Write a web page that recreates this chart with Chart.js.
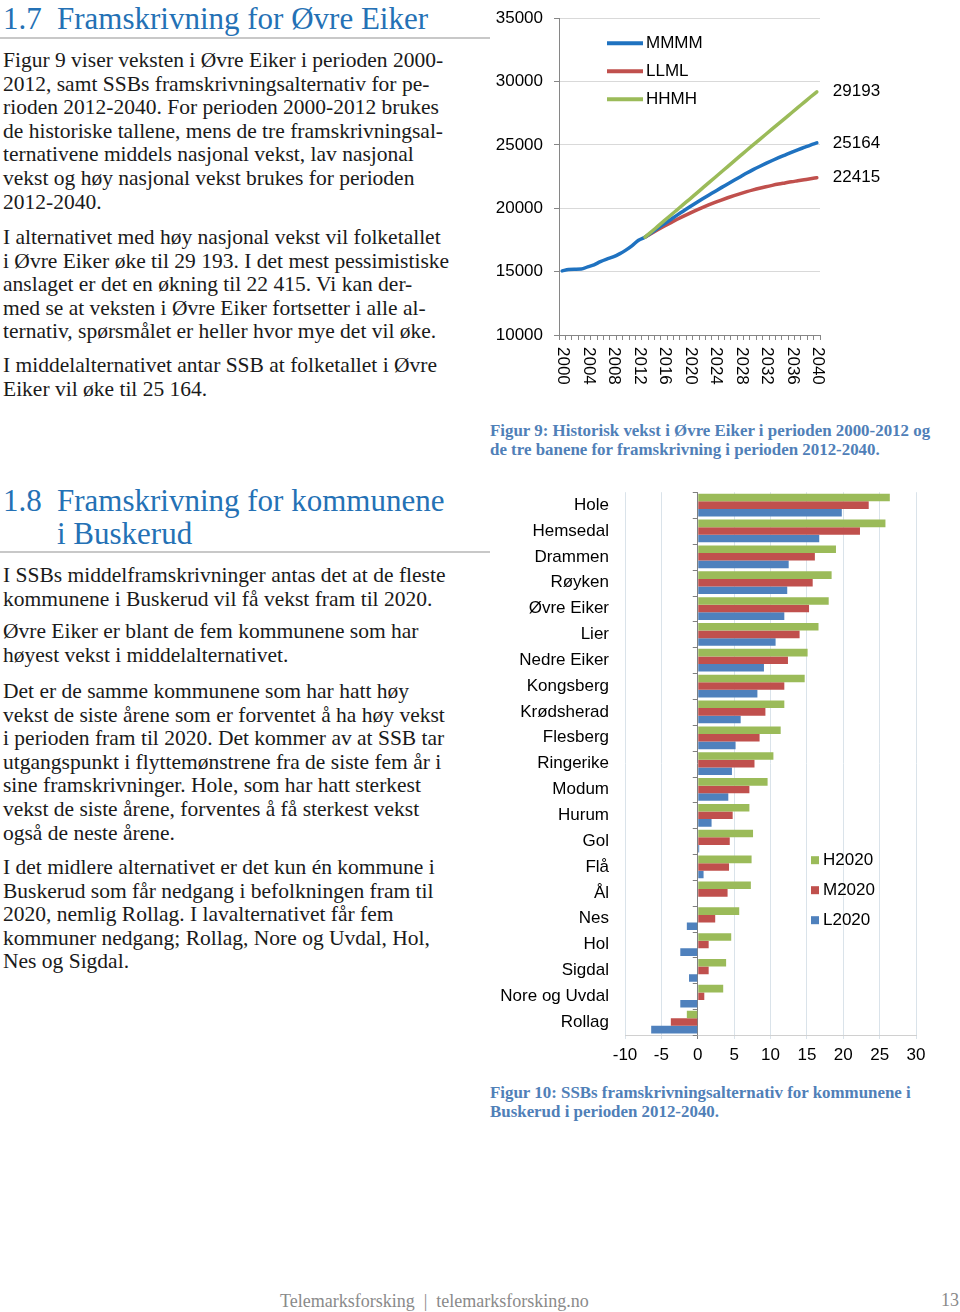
<!DOCTYPE html>
<html>
<head>
<meta charset="utf-8">
<script src="https://cdn.jsdelivr.net/npm/chart.js@4.4.0/dist/chart.umd.min.js"></script>
<style>
html, body { margin: 0; padding: 0; background: #fff; }
body { width: 960px; height: 1312px; position: relative; overflow: hidden;
  font-family: "Liberation Serif", "DejaVu Serif", serif; color: #1a1a1a; }
.h { position: absolute; font-size: 31px; line-height: 32.6px; color: #2471b5; white-space: nowrap; }
.rule { position: absolute; left: 0; width: 490px; height: 2px; background: #c8c8c8; }
.p { position: absolute; left: 3px; font-size: 21.5px; line-height: 23.6px; white-space: nowrap; }
.cap { position: absolute; left: 490px; font-size: 16.9px; line-height: 18.7px; font-weight: bold; color: #5080b8; white-space: nowrap; }
.foot { position: absolute; font-size: 18px; color: #8a8a8a; white-space: nowrap; }
canvas { position: absolute; }
</style>
</head>
<body>

<div class="h" style="left:3px;top:3px">1.7</div>
<div class="h" style="left:57px;top:3px">Framskrivning for Øvre Eiker</div>
<div class="rule" style="top:37px"></div>

<div class="p" style="top:49px">Figur 9 viser veksten i Øvre Eiker i perioden 2000-<br>2012, samt SSBs framskrivningsalternativ for pe-<br>rioden 2012-2040. For perioden 2000-2012 brukes<br>de historiske tallene, mens de tre framskrivningsal-<br>ternativene middels nasjonal vekst, lav nasjonal<br>vekst og høy nasjonal vekst brukes for perioden<br>2012-2040.</div>

<div class="p" style="top:226px">I alternativet med høy nasjonal vekst vil folketallet<br>i Øvre Eiker øke til 29 193. I det mest pessimistiske<br>anslaget er det en økning til 22 415. Vi kan der-<br>med se at veksten i Øvre Eiker fortsetter i alle al-<br>ternativ, spørsmålet er heller hvor mye det vil øke.</div>

<div class="p" style="top:354px">I middelalternativet antar SSB at folketallet i Øvre<br>Eiker vil øke til 25 164.</div>

<div class="h" style="left:3px;top:485px">1.8</div>
<div class="h" style="left:57px;top:485px">Framskrivning for kommunene<br>i Buskerud</div>
<div class="rule" style="top:551px"></div>

<div class="p" style="top:564px">I SSBs middelframskrivninger antas det at de fleste<br>kommunene i Buskerud vil få vekst fram til 2020.</div>

<div class="p" style="top:620px">Øvre Eiker er blant de fem kommunene som har<br>høyest vekst i middelalternativet.</div>

<div class="p" style="top:680px">Det er de samme kommunene som har hatt høy<br>vekst de siste årene som er forventet å ha høy vekst<br>i perioden fram til 2020. Det kommer av at SSB tar<br>utgangspunkt i flyttemønstrene fra de siste fem år i<br>sine framskrivninger. Hole, som har hatt sterkest<br>vekst de siste årene, forventes å få sterkest vekst<br>også de neste årene.</div>

<div class="p" style="top:856px">I det midlere alternativet er det kun én kommune i<br>Buskerud som får nedgang i befolkningen fram til<br>2020, nemlig Rollag. I lavalternativet får fem<br>kommuner nedgang; Rollag, Nore og Uvdal, Hol,<br>Nes og Sigdal.</div>

<div class="cap" style="top:422px">Figur 9: Historisk vekst i Øvre Eiker i perioden 2000-2012 og<br>de tre banene for framskrivning i perioden 2012-2040.</div>
<div class="cap" style="top:1084px">Figur 10: SSBs framskrivningsalternativ for kommunene i<br>Buskerud i perioden 2012-2040.</div>

<div class="foot" style="left:280px;top:1291px">Telemarksforsking &nbsp;|&nbsp; telemarksforsking.no</div>
<div class="foot" style="left:941px;top:1290px">13</div>

<canvas id="lineChart" width="410" height="398" style="left:490px;top:-3px"></canvas>
<canvas id="barChart" width="450" height="609" style="left:490px;top:466px"></canvas>

<script>
// Figur 9 - folketall Øvre Eiker
const years = [2000, 2001, 2002, 2003, 2004, 2005, 2006, 2007, 2008, 2009, 2010,
  2011, 2012, 2013, 2014, 2015, 2016, 2017, 2018, 2019, 2020,
  2021, 2022, 2023, 2024, 2025, 2026, 2027, 2028, 2029, 2030,
  2031, 2032, 2033, 2034, 2035, 2036, 2037, 2038, 2039, 2040];
// historiske tall 2000-2013
const historical = [15060, 15170, 15190, 15200, 15380, 15540, 15790, 15990, 16160, 16400, 16700, 17060, 17480, 17720];
// framskrivninger 2013-2040
const mmmm = [17720, 18070, 18420, 18760, 19100, 19440, 19770, 20100, 20420, 20730, 21030, 21330, 21630, 21920,
  22210, 22490, 22780, 23050, 23300, 23540, 23770, 23990, 24200, 24410, 24610, 24800, 24990, 25164];
const llml = [17720, 18010, 18300, 18580, 18850, 19110, 19360, 19600, 19830, 20050, 20260, 20460, 20650, 20830,
  21000, 21160, 21310, 21450, 21580, 21700, 21810, 21910, 22000, 22090, 22170, 22250, 22330, 22415];
const hhmh = [17720, 18140, 18570, 19000, 19430, 19860, 20290, 20710, 21140, 21570, 22000, 22430, 22860, 23290,
  23720, 24150, 24580, 25000, 25420, 25840, 26260, 26680, 27100, 27520, 27940, 28360, 28780, 29193];
const yTicks = [10000, 15000, 20000, 25000, 30000, 35000];

// Figur 10 - vekst i prosent fram til 2020
const kommuner = ['Hole', 'Hemsedal', 'Drammen', 'Røyken', 'Øvre Eiker', 'Lier', 'Nedre Eiker', 'Kongsberg',
  'Krødsherad', 'Flesberg', 'Ringerike', 'Modum', 'Hurum', 'Gol', 'Flå', 'Ål', 'Nes', 'Hol', 'Sigdal',
  'Nore og Uvdal', 'Rollag'];
const h2020 = [26.4, 25.8, 19.0, 18.4, 18.0, 16.6, 15.1, 14.7, 11.9, 11.4, 10.4, 9.6, 7.1, 7.6, 7.4, 7.3, 5.7, 4.6, 3.9, 3.5, -1.5];
const m2020 = [23.5, 22.3, 16.1, 15.8, 15.3, 14.0, 12.4, 11.9, 9.3, 8.5, 7.8, 7.1, 4.8, 4.4, 4.3, 4.1, 2.4, 1.5, 1.5, 0.9, -3.7];
const l2020 = [19.8, 16.7, 12.5, 12.3, 11.9, 10.7, 9.1, 8.2, 5.9, 5.2, 4.7, 4.2, 1.9, 0.2, 0.8, 0.0, -1.5, -2.4, -1.2, -2.4, -6.4];
const xTicks = [-10, -5, 0, 5, 10, 15, 20, 25, 30];

Chart.defaults.font.family = '"Liberation Sans", Arial, sans-serif';
Chart.defaults.font.size = 17;
Chart.defaults.color = '#000';

const FONT = '17px "Liberation Sans", Arial, sans-serif';
const pad = Array(years.length - mmmm.length).fill(null);

// year labels rotated 90 deg clockwise, reading downwards
const rotatedYears = {
  id: 'rotatedYears',
  afterDraw(chart) {
    const s = chart.scales.x, ctx = chart.ctx;
    ctx.save();
    ctx.font = FONT;
    ctx.fillStyle = '#000';
    ctx.textAlign = 'left';
    ctx.textBaseline = 'middle';
    s.ticks.forEach((t, i) => {
      if (years[i] % 4) return;
      ctx.save();
      ctx.translate(s.getPixelForTick(i) + 1, s.top + 12);
      ctx.rotate(Math.PI / 2);
      ctx.fillText(String(years[i]), 0, 0);
      ctx.restore();
    });
    ctx.restore();
  }
};

const lineLegend = {
  id: 'lineLegend',
  afterDatasetsDraw(chart) {
    const a = chart.chartArea, ctx = chart.ctx;
    ctx.save();
    ctx.font = FONT;
    ctx.fillStyle = '#000';
    ctx.textBaseline = 'middle';
    chart.data.datasets.forEach((d, i) => {
      const y = a.top + 25 + i * 28;
      ctx.strokeStyle = d.borderColor;
      ctx.lineWidth = 4;
      ctx.beginPath();
      ctx.moveTo(a.left + 48, y);
      ctx.lineTo(a.left + 84, y);
      ctx.stroke();
      ctx.fillText(d.label, a.left + 87, y);
      // verdien ved siste punkt
      const meta = chart.getDatasetMeta(i);
      const p = meta.data[meta.data.length - 1];
      ctx.fillText(String(d.data[d.data.length - 1]), p.x + 16, p.y);
    });
    ctx.restore();
  }
};

new Chart(document.getElementById('lineChart'), {
  type: 'line',
  data: {
    labels: years,
    datasets: [
      { label: 'MMMM', data: historical.slice(0, -1).concat(mmmm), borderColor: '#1f72c0', order: 1 },
      { label: 'LLML', data: pad.concat(llml), borderColor: '#c0504d', order: 2 },
      { label: 'HHMH', data: pad.concat(hhmh), borderColor: '#9bbb59', order: 0 }
    ]
  },
  options: {
    responsive: false,
    animation: false,
    layout: { padding: { top: 5, right: 80 } },
    elements: {
      line: { borderWidth: 3.5, cubicInterpolationMode: 'monotone', borderCapStyle: 'round' },
      point: { radius: 0 }
    },
    plugins: { legend: { display: false }, tooltip: { enabled: false } },
    scales: {
      x: {
        offset: true,
        grid: { offset: true, drawOnChartArea: false, tickLength: 5, color: '#868686' },
        border: { color: '#868686' },
        ticks: { autoSkip: false, minRotation: 90, maxRotation: 90, color: 'rgba(0,0,0,0)',
          callback: (v, i) => (years[i] % 4 === 0 ? String(years[i]) : '') },
        afterFit: s => { s.height = 60; }
      },
      y: {
        min: yTicks[0],
        max: yTicks[yTicks.length - 1],
        afterBuildTicks: s => { s.ticks = yTicks.map(v => ({ value: v })); },
        ticks: { padding: 11, callback: v => String(v) },
        grid: { color: '#d9d9d9', tickLength: 5, tickColor: '#868686' },
        border: { color: '#868686' },
        afterFit: s => { s.width = 69; }
      }
    }
  },
  plugins: [rotatedYears, lineLegend]
});

// small tick marks on the zero axis between the categories
const zeroTicks = {
  id: 'zeroTicks',
  beforeDatasetsDraw(chart) {
    const x0 = chart.scales.x.getPixelForValue(0), y = chart.scales.y, ctx = chart.ctx;
    const half = (y.getPixelForValue(1) - y.getPixelForValue(0)) / 2;
    ctx.save();
    ctx.strokeStyle = '#7f7f7f';
    ctx.lineWidth = 1;
    ctx.beginPath();
    for (let i = 0; i <= kommuner.length; i++) {
      const py = Math.round(y.getPixelForValue(i) - half) + 0.5;
      ctx.moveTo(x0 - 5, py);
      ctx.lineTo(x0, py);
    }
    ctx.stroke();
    ctx.restore();
  }
};

const barLegend = {
  id: 'barLegend',
  afterDraw(chart) {
    const a = chart.chartArea, ctx = chart.ctx;
    ctx.save();
    ctx.font = FONT;
    ctx.textBaseline = 'middle';
    chart.data.datasets.forEach((d, i) => {
      const y = a.top + 368 + i * 30;
      const x = a.right - 105;
      ctx.fillStyle = d.backgroundColor;
      ctx.fillRect(x, y - 4, 8, 8);
      ctx.fillStyle = '#000';
      ctx.fillText(d.label, x + 12, y);
    });
    ctx.restore();
  }
};

new Chart(document.getElementById('barChart'), {
  type: 'bar',
  data: {
    labels: kommuner,
    datasets: [
      { label: 'H2020', data: h2020, backgroundColor: '#9bbb59' },
      { label: 'M2020', data: m2020, backgroundColor: '#c0504d' },
      { label: 'L2020', data: l2020, backgroundColor: '#4f81bd' }
    ]
  },
  options: {
    indexAxis: 'y',
    responsive: false,
    animation: false,
    layout: { padding: { top: 10, right: 24 } },
    datasets: { bar: { categoryPercentage: 0.88, barPercentage: 1 } },
    plugins: { legend: { display: false }, tooltip: { enabled: false } },
    scales: {
      x: {
        min: xTicks[0],
        max: xTicks[xTicks.length - 1],
        afterBuildTicks: s => { s.ticks = xTicks.map(v => ({ value: v })); },
        ticks: { padding: 6, callback: v => String(v) },
        grid: { color: c => (c.tick && c.tick.value === 0 ? '#7f7f7f' : '#dae3ea'), tickLength: 4 },
        border: { color: '#d0d0d0' },
        afterFit: s => { s.height = 40; }
      },
      y: {
        grid: { display: false, drawTicks: false },
        border: { display: false },
        ticks: { autoSkip: false, padding: 16 },
        afterFit: s => { s.width = 135; }
      }
    }
  },
  plugins: [zeroTicks, barLegend]
});
</script>
</body>
</html>
